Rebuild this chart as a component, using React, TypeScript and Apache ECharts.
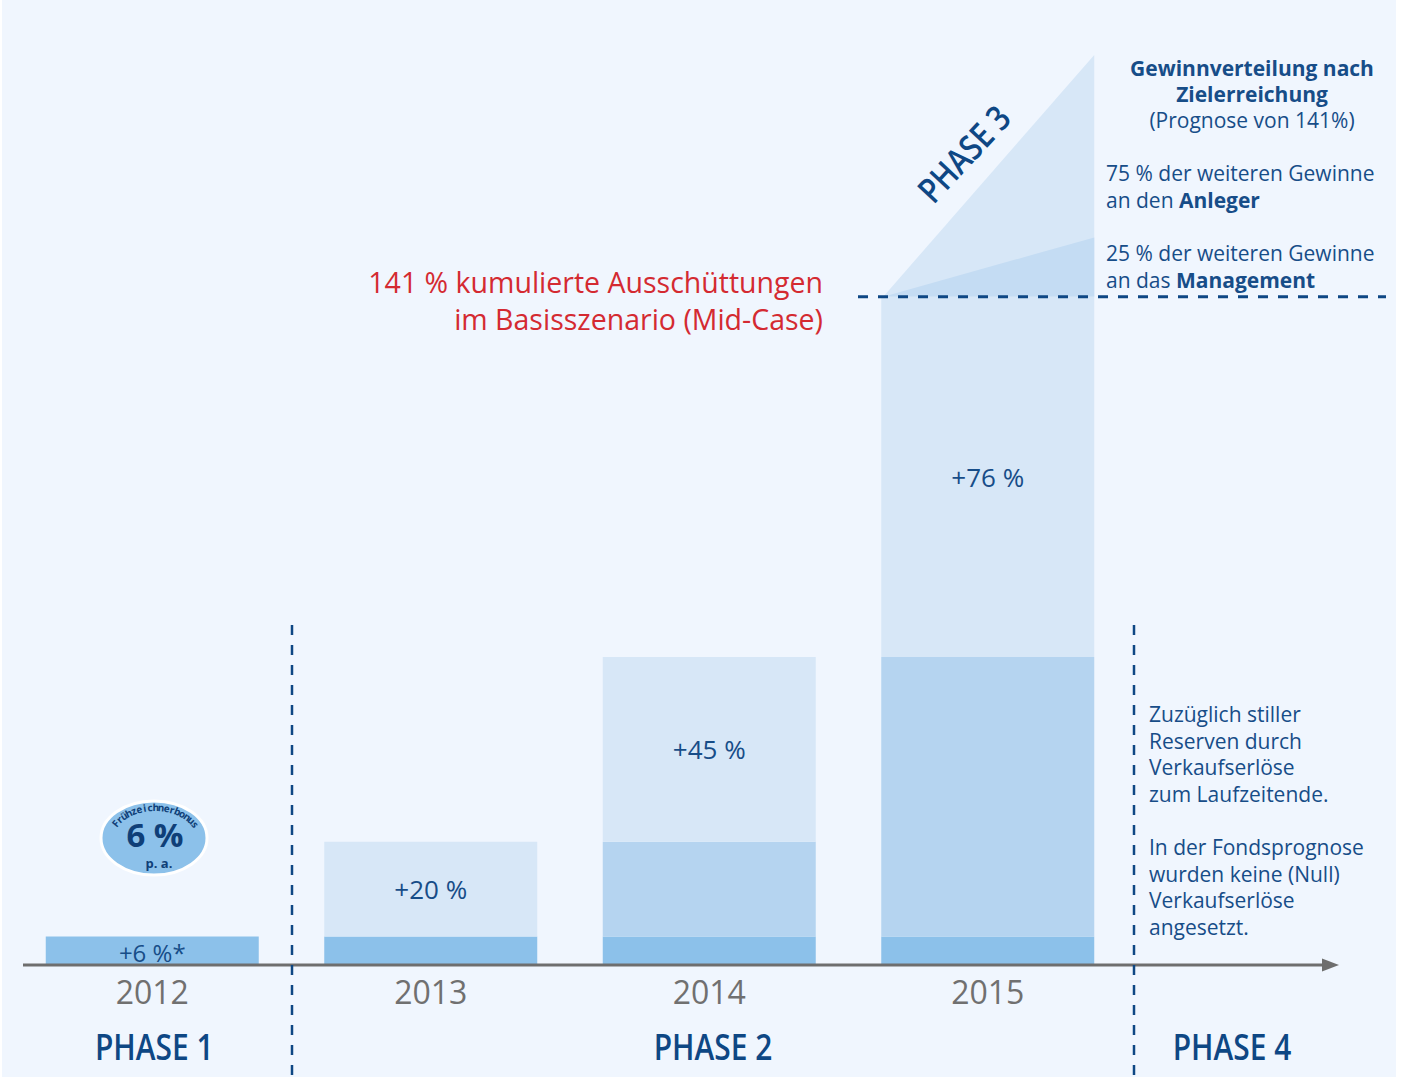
import React, { useEffect, useRef } from "react";
import * as echarts from "echarts";

// ---- data ----
const years = ["2012", "2013", "2014", "2015"];
const baseShare = [6, 6, 6, 6]; // dark bottom segment (%)
const carriedShare = [null, null, 20, 59]; // mid-blue segment (%)
const newShare = [null, 20, 39, 76]; // light top segment (%)
const segmentLabels = ["+6 %*", "+20 %", "+45 %", "+76 %"];
const phase3Levels = [141, 153.5, 192]; // base line, management split, top
const cumulative = 141;
const phaseNames = ["PHASE 1", "PHASE 2", "PHASE 4"];
const yMax = 200;

const BLUE = "#174d88";
const DARK = "#0e4784";
const FONT = "'Open Sans', 'Noto Sans', sans-serif";

export default function App() {
  const ref = useRef<HTMLDivElement>(null);

  useEffect(() => {
    if (!ref.current) return;
    const chart = echarts.init(ref.current, null, { renderer: "svg" });

    chart.setOption({
      animation: false,
      backgroundColor: "#ffffff",
      grid: { left: 13, right: 275, top: 17, bottom: 112 },
      xAxis: {
        type: "category",
        data: years,
        axisLine: { show: false },
        axisTick: { show: false },
        axisLabel: {
          color: "#707070",
          fontSize: 32,
          fontFamily: FONT,
          margin: 10,
        },
        z: 10,
      },
      yAxis: {
        type: "value",
        min: 0,
        max: yMax,
        show: false,
        splitLine: { show: false },
      },
      series: [
        {
          type: "bar",
          stack: "a",
          barWidth: 213,
          data: baseShare,
          itemStyle: { color: "#8cc1ea" },
          label: {
            show: true,
            position: "inside",
            formatter: (p: any) => (p.dataIndex === 0 ? segmentLabels[0] : ""),
            color: BLUE,
            fontSize: 24,
            fontFamily: FONT,
            offset: [0, 2],
          },
        },
        {
          type: "bar",
          stack: "a",
          barWidth: 213,
          data: carriedShare,
          itemStyle: { color: "#b5d4f0" },
        },
        {
          type: "bar",
          stack: "a",
          barWidth: 213,
          data: newShare,
          itemStyle: { color: "#d7e7f7" },
          label: {
            show: true,
            position: "inside",
            formatter: (p: any) => segmentLabels[p.dataIndex],
            color: BLUE,
            fontSize: 26,
            fontFamily: FONT,
          },
        },
        {
          type: "custom",
          clip: false,
          data: [[years.length - 1, ...phase3Levels]],
          encode: { x: 0, y: [1, 2, 3] },
          renderItem: (params: any, api: any) => {
            const xi = api.value(0);
            const p0 = api.coord([xi, api.value(1)]);
            const p1 = api.coord([xi, api.value(2)]);
            const p2 = api.coord([xi, api.value(3)]);
            const bw = 213;
            const l = p0[0] - bw / 2 + 2;
            const r = p0[0] + bw / 2;
            return {
              type: "group",
              children: [
                {
                  type: "polygon",
                  shape: { points: [[l, p0[1]], [r, p2[1]], [r, p0[1]]] },
                  style: { fill: "#d7e7f7" },
                },
                {
                  type: "polygon",
                  shape: { points: [[l, p0[1]], [r, p1[1]], [r, p0[1]]] },
                  style: { fill: "#c4dcf3" },
                },
              ],
            };
          },
        },
      ],
    });

    const y0 = chart.convertToPixel({ yAxisIndex: 0 }, 0) as number;
    const yC = chart.convertToPixel({ yAxisIndex: 0 }, cumulative) as number;
    const xs = years.map((_, i) => chart.convertToPixel({ xAxisIndex: 0 }, i) as number);

    // curved badge text, spaced evenly along the arc length
    const arcText = "Frühzeichnerbonus";
    const cx = 155, cy = 840, rx = 46, ry = 33;
    const t0 = (154 * Math.PI) / 180, t1 = (24 * Math.PI) / 180;
    const steps = 400;
    const samples: { th: number; s: number }[] = [];
    let acc = 0;
    let prev = [cx + rx * Math.cos(t0), cy - ry * Math.sin(t0)];
    for (let k = 0; k <= steps; k++) {
      const th = t0 + ((t1 - t0) * k) / steps;
      const pt = [cx + rx * Math.cos(th), cy - ry * Math.sin(th)];
      acc += Math.hypot(pt[0] - prev[0], pt[1] - prev[1]);
      prev = pt;
      samples.push({ th, s: acc });
    }
    const total = acc;
    const arcChars: any[] = [];
    const n = arcText.length;
    for (let i = 0; i < n; i++) {
      const target = (total * (i + 0.5)) / n;
      let th = samples[samples.length - 1].th;
      for (const sm of samples) {
        if (sm.s >= target) {
          th = sm.th;
          break;
        }
      }
      const x = cx + rx * Math.cos(th);
      const y = cy - ry * Math.sin(th);
      const rot = -Math.atan2(ry * Math.cos(th), rx * Math.sin(th));
      arcChars.push({
        type: "text",
        x,
        y,
        rotation: rot,
        z: 110,
        style: {
          text: arcText[i],
          fill: "#0f3f78",
          fontSize: 10,
          fontWeight: "bold",
          fontFamily: FONT,
          textAlign: "center",
          textVerticalAlign: "middle",
        },
      });
    }

    const txt = (x: number, y: number, text: string, o: any = {}) => ({
      type: "text",
      x,
      y,
      z: 100,
      rotation: o.rotation || 0,
      scaleX: o.scaleX || 1,
      style: {
        text,
        fill: o.fill || BLUE,
        fontSize: o.fontSize || 21,
        fontWeight: o.fontWeight || "normal",
        fontFamily: o.fontFamily || FONT,
        textAlign: o.align || "left",
        textVerticalAlign: o.valign || "middle",
        lineHeight: o.lineHeight,
        rich: o.rich,
      },
    });

    const boldRich = {
      b: { fontWeight: "bold", fontSize: 21, fill: BLUE, fontFamily: FONT },
    };

    const phaseStyle = {
      fill: DARK,
      fontSize: 36,
      fontWeight: 600,
      align: "center",
      scaleX: 0.83,
    };

    chart.setOption({
      graphic: [
        // panel background
        {
          type: "rect",
          z: -100,
          shape: { x: 2, y: 0, width: 1394, height: 1077 },
          style: { fill: "#f0f6fe" },
        },
        // axis line + arrow
        {
          type: "line",
          z: 50,
          shape: { x1: 23, y1: y0, x2: 1324, y2: y0 },
          style: { stroke: "#6e6e6e", lineWidth: 3 },
        },
        {
          type: "polygon",
          z: 50,
          shape: { points: [[1322, y0 - 6.5], [1339, y0], [1322, y0 + 6.5]] },
          style: { fill: "#6e6e6e" },
        },
        // dashed cumulative line
        {
          type: "line",
          z: 60,
          shape: { x1: 858, y1: yC, x2: 1386, y2: yC },
          style: { stroke: DARK, lineWidth: 3, lineDash: [10, 10] },
        },
        // phase separators
        {
          type: "line",
          z: 60,
          shape: { x1: 292, y1: 625, x2: 292, y2: 1077 },
          style: { stroke: DARK, lineWidth: 2.5, lineDash: [10, 10] },
        },
        {
          type: "line",
          z: 60,
          shape: { x1: 1134, y1: 625, x2: 1134, y2: 1077 },
          style: { stroke: DARK, lineWidth: 2.5, lineDash: [10, 10] },
        },
        // phase labels
        txt(xs[0] + 2, 1046, phaseNames[0], phaseStyle),
        txt(713, 1046, phaseNames[1], phaseStyle),
        txt(1232, 1046, phaseNames[2], phaseStyle),
        {
          type: "text",
          x: 963,
          y: 153,
          z: 100,
          rotation: (47 * Math.PI) / 180,
          scaleX: 0.84,
          style: {
            text: "PHASE 3",
            fill: DARK,
            fontSize: 35,
            fontWeight: 600,
            fontFamily: FONT,
            textAlign: "center",
            textVerticalAlign: "middle",
          },
        },
        // red annotation
        txt(823, 282, "141 % kumulierte Ausschüttungen", {
          fill: "#d42a31",
          fontSize: 28.5,
          align: "right",
          lineHeight: 32,
        }),
        txt(823, 319, "im Basisszenario (Mid-Case)", {
          fill: "#d42a31",
          fontSize: 28.5,
          align: "right",
          lineHeight: 32,
        }),
        // right top block
        txt(1252, 68, "Gewinnverteilung nach", { fontWeight: "bold", align: "center" }),
        txt(1252, 94, "Zielerreichung", { fontWeight: "bold", align: "center" }),
        txt(1252, 120, "(Prognose von 141%)", { align: "center" }),
        txt(1106, 173, "75 % der weiteren Gewinne"),
        txt(1106, 200, "an den {b|Anleger}", { rich: boldRich }),
        txt(1106, 253, "25 % der weiteren Gewinne"),
        txt(1106, 280, "an das {b|Management}", { rich: boldRich }),
        // right lower block
        txt(
          1149,
          700.7,
          "Zuzüglich stiller\nReserven durch\nVerkaufserlöse\nzum Laufzeitende.\n\nIn der Fondsprognose\nwurden keine (Null)\nVerkaufserlöse\nangesetzt.",
          { lineHeight: 26.6, valign: "top" }
        ),
        // badge
        {
          type: "ellipse",
          z: 100,
          shape: { cx: 154, cy: 838, rx: 53, ry: 37 },
          style: { fill: "#8cc1ea", stroke: "#ffffff", lineWidth: 3 },
        },
        txt(155, 834, "6 %", {
          fill: "#0f3f78",
          fontSize: 33,
          fontWeight: "bold",
          align: "center",
          lineHeight: 24,
        }),
        txt(159, 863, "p. a.", {
          fill: "#0f3f78",
          fontSize: 13,
          fontWeight: "bold",
          align: "center",
          lineHeight: 13,
        }),
        ...arcChars,
      ],
    });

    return () => chart.dispose();
  }, []);

  return (
    <div
      ref={ref}
      style={{ position: "absolute", left: 0, top: 0, width: 1402, height: 1077 }}
    />
  );
}
